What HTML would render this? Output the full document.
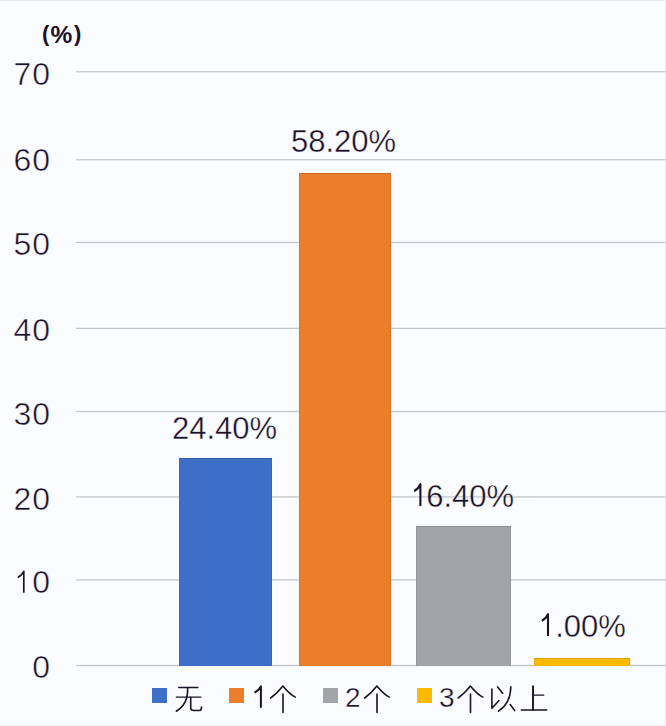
<!DOCTYPE html>
<html><head><meta charset="utf-8">
<style>
html,body{margin:0;padding:0;}
body{width:666px;height:726px;position:relative;overflow:hidden;background:#fbfcff;font-family:"Liberation Sans",sans-serif;color:#1b1129;}
.frame{position:absolute;left:0;top:0;width:666px;height:726px;border-top:1px solid #e9eaed;border-right:1px solid #e9eaed;border-bottom:1px solid #eeeff1;box-sizing:border-box;}
.bar{position:absolute;box-shadow:inset 0 1px 0 rgba(0,0,0,.14),inset 1px 0 0 rgba(0,0,0,.07),inset -1px 0 0 rgba(0,0,0,.07);}
.t{position:absolute;white-space:nowrap;line-height:1;}
.yl{position:absolute;right:615px;font-size:32px;letter-spacing:1px;-webkit-text-stroke:0.5px #fbfcff;line-height:1;text-align:right;}
.lab{position:absolute;font-size:31px;-webkit-text-stroke:0.35px #fbfcff;line-height:1;white-space:nowrap;}
.h{color:transparent;-webkit-text-stroke:0;}
.sq{position:absolute;top:688px;width:15px;height:15px;}
.leg{position:absolute;font-size:28px;line-height:1;-webkit-text-stroke:0.35px #fbfcff;}
</style></head>
<body>
<div class="frame"></div>
<div class="t" style="left:42px;top:23px;font-size:22px;font-weight:bold;">(</div>
<div class="t" style="left:50.5px;top:22.5px;font-size:24.5px;font-weight:bold;">%</div>
<div class="t" style="left:74px;top:23px;font-size:22px;font-weight:bold;">)</div>

<div class="yl" style="top:58px;">70</div>
<div class="yl" style="top:144px;">60</div>
<div class="yl" style="top:228px;">50</div>
<div class="yl" style="top:314px;">40</div>
<div class="yl" style="top:398px;">30</div>
<div class="yl" style="top:483px;">20</div>
<div class="yl" style="top:566px;"><span class="h">1</span>0</div>
<div class="yl" style="top:651px;">0</div>


<svg style="position:absolute;left:0;top:0" width="666" height="726"><g fill="#c4c6cb"><rect x="76" y="71.11" width="590" height="1.3"/><rect x="76" y="159.11" width="590" height="1.3"/><rect x="76" y="241.85" width="590" height="1.3"/><rect x="76" y="327.71" width="590" height="1.3"/><rect x="76" y="410.90" width="590" height="1.3"/><rect x="76" y="496.25" width="590" height="1.3"/><rect x="76" y="579.25" width="590" height="1.3"/><rect x="76" y="664.85" width="590" height="1.3"/></g></svg>
<div class="bar" style="left:179px;top:458px;width:93px;height:208px;background:#3e6fc7;"></div>
<div class="bar" style="left:299px;top:173px;width:92px;height:493px;background:#eb7d2b;"></div>
<div class="bar" style="left:416px;top:526px;width:95px;height:140px;background:#a3a4a8;"></div>
<div class="bar" style="left:534px;top:658px;width:96px;height:8px;background:#fdba00;"></div>

<div class="lab" style="left:291px;top:126px;">58.20%</div>
<div class="lab" style="left:172px;top:413px;">24.40%</div>
<div class="lab" style="left:411px;top:481px;"><span class="h" style="margin-right:-2px">1</span>6.40%</div>
<div class="lab" style="left:538px;top:611px;"><span class="h">1</span>.00%</div>

<div class="sq" style="left:152px;background:#3e6fc7;"></div>
<div class="sq" style="left:229px;background:#eb7d2b;"></div>
<div class="sq" style="left:323px;background:#a3a4a8;"></div>
<div class="sq" style="left:417px;background:#fdba00;"></div>


<div class="leg" style="left:345px;top:684px;">2</div>
<div class="leg" style="left:439px;top:684px;">3</div>

<svg style="position:absolute;left:0;top:0" width="666" height="726" fill="none" stroke="#1b1129" stroke-width="1.6" stroke-linecap="round" stroke-linejoin="round">
<!-- 无 -->
<path stroke-width="1.35" d="M178.7 687.5H197.9M176.3 697.1H200.9"/><path d="M187.7 687.8C187.7 692 187.4 695 186.8 697.5C185.5 703 181.5 708 176.3 711.2M190.7 697.4V708C190.7 710 191.5 710.5 194 710.5H199.5C201 710.5 201.5 709.5 201.5 707"/>
<!-- 个 x3 -->
<path transform="translate(0 0)" d="M282.9 686C279 691 275 695 270.7 698M282.9 686C287 691 291 695 295.3 697.1M283 694.1V712.4"/>
<path transform="translate(94 0)" d="M282.9 686C279 691 275 695 270.7 698M282.9 686C287 691 291 695 295.3 697.1M283 694.1V712.4"/>
<path transform="translate(187.5 0)" d="M282.9 686C279 691 275 695 270.7 698M282.9 686C287 691 291 695 295.3 697.1M283 694.1V712.4"/>
<!-- 以 -->
<path d="M491.9 689V708.2L498.8 700.7M497.6 686.9L502.7 693.2M510.8 686.9C510.5 700 505 707 498.5 711.2M510.2 704.6L514.7 710.6"/>
<!-- 上 -->
<path stroke-width="1.9" d="M533 686.3V709.7"/><path stroke-width="1.25" d="M533.6 695H543.8"/><path stroke-width="1.45" d="M521.3 710H546.8"/>
<!-- ones -->
<path stroke-width="2.1" stroke-linecap="butt" d="M541.8 620.8Q546.5 618.2 548 614.2V636"/>
<path stroke-width="2.1" stroke-linecap="butt" d="M414.2 491.2Q418.8 488.6 420.4 484.2V505.9"/>
<path stroke-width="1.7" stroke-linecap="butt" d="M17.8 577.6Q22.2 575.2 23.8 571.3V592.8"/>
<path stroke-width="2" stroke-linecap="butt" d="M254.5 692.6Q259.2 690.2 260.9 686.4V707.8"/>
</svg>
</body></html>
